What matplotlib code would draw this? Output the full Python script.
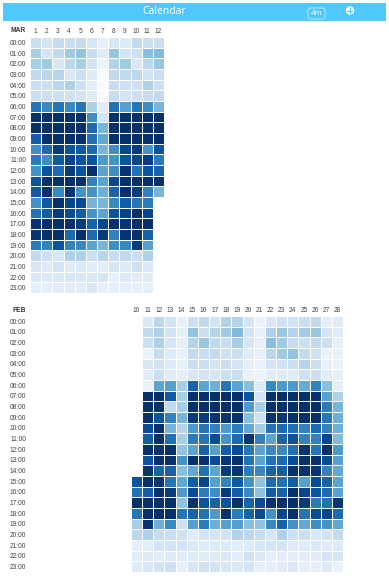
#!/usr/bin/python3
""" two calendar heatmaps, hour of day against day of month """
import numpy as np
import matplotlib
matplotlib.use("Agg")
import matplotlib.pyplot as plt
from matplotlib.colors import PowerNorm
from matplotlib.patches import Rectangle, FancyBboxPatch, Circle

WIDTH = 389
HEIGHT = 578
HOURS = ["%02d:00" % h for h in range(24)]
MAR_DAYS = list(range(1, 13))
FEB_DAYS = list(range(10, 29))

MAR_VALUES = [
    [18, 14, 20, 18, 20, 13, 6, 12, 10, 22, 18, 18],
    [30, 14, 22, 32, 36, 20, 10, 35, 14, 18, 38, 40],
    [30, 32, 12, 24, 30, 14, 4, 26, 32, 12, 24, 34],
    [22, 24, 25, 12, 18, 9, 0, 22, 22, 24, 15, 18],
    [18, 18, 24, 28, 17, 8, 0, 20, 17, 17, 28, 17],
    [18, 18, 17, 16, 15, 10, 0, 20, 14, 17, 20, 22],
    [70, 62, 70, 62, 70, 28, 8, 72, 52, 70, 60, 42],
    [100, 100, 100, 100, 100, 60, 14, 100, 100, 100, 100, 100],
    [100, 100, 100, 100, 100, 75, 42, 100, 100, 100, 100, 100],
    [80, 100, 100, 100, 100, 72, 48, 100, 100, 100, 100, 100],
    [60, 75, 95, 85, 82, 75, 42, 60, 90, 95, 58, 85],
    [68, 60, 82, 92, 85, 85, 55, 58, 85, 90, 95, 68],
    [58, 85, 75, 95, 85, 100, 50, 60, 98, 72, 85, 78],
    [85, 100, 100, 100, 100, 65, 50, 90, 100, 100, 100, 100],
    [82, 100, 62, 98, 58, 58, 45, 78, 100, 95, 65, 42],
    [58, 82, 100, 90, 88, 42, 42, 62, 80, 70, 68],
    [72, 80, 95, 88, 80, 58, 50, 85, 92, 100, 90],
    [100, 100, 100, 100, 95, 78, 90, 100, 98, 100, 100],
    [98, 100, 100, 75, 100, 75, 95, 65, 98, 100, 78],
    [68, 65, 85, 65, 62, 50, 42, 60, 62, 95, 52],
    [22, 17, 13, 28, 28, 18, 25, 20, 22, 18, 28],
    [12, 9, 14, 9, 10, 8, 8, 13, 10, 17, 11],
    [11, 11, 11, 13, 12, 12, 13, 6, 10, 9, 9],
    [7, 7, 8, 8, 8, 12, 6, 7, 6, 6, 7],
]

# the 10th only has data from 15:00, so the earlier rows start with None
FEB_VALUES = [
    [None, 11, 24, 14, 5, 17, 23, 14, 26, 26, 14, 4, 11, 17, 15, 18, 22, 7, 9],
    [None, 22, 28, 15, 7, 36, 18, 26, 32, 40, 15, 6, 28, 34, 26, 32, 34, 14, 9],
    [None, 18, 28, 13, 8, 26, 34, 23, 20, 30, 13, 6, 38, 32, 20, 18, 22, 18, 7],
    [None, 5, 20, 9, 6, 22, 20, 22, 16, 18, 9, 6, 24, 32, 36, 22, 17, 5, 5],
    [None, 12, 16, 10, 6, 18, 18, 14, 18, 14, 7, 5, 14, 17, 18, 26, 18, 6, 5],
    [None, 8, 18, 9, 7, 12, 14, 13, 18, 18, 5, 4, 8, 9, 9, 17, 18, 9, 6],
    [None, 5, 50, 52, 30, 78, 50, 45, 70, 50, 38, 10, 62, 55, 55, 47, 65, 38, 8],
    [None, 100, 100, 82, 30, 100, 100, 100, 100, 100, 85, 14, 100, 100, 100, 100, 100, 52, 28],
    [None, 100, 100, 22, 30, 100, 100, 100, 100, 100, 55, 30, 100, 100, 100, 100, 100, 68, 42],
    [None, 100, 85, 65, 42, 95, 95, 98, 98, 100, 38, 17, 100, 97, 100, 100, 100, 70, 45],
    [None, 88, 100, 42, 26, 55, 70, 65, 55, 68, 48, 30, 72, 75, 72, 65, 75, 65, 45],
    [None, 80, 100, 72, 30, 68, 70, 88, 58, 75, 98, 65, 50, 78, 85, 65, 65, 90, 40],
    [None, 100, 98, 100, 36, 50, 78, 52, 80, 88, 70, 50, 62, 62, 72, 98, 70, 100, 55],
    [None, 85, 100, 100, 58, 100, 100, 88, 97, 100, 72, 50, 72, 75, 88, 100, 100, 88, 52],
    [None, 98, 78, 78, 38, 48, 72, 50, 95, 98, 68, 62, 78, 80, 100, 100, 98, 65, 48],
    [85, 100, 97, 70, 48, 80, 90, 52, 65, 82, 58, 36, 75, 72, 80, 52, 88, 78, 50],
    [72, 80, 100, 95, 55, 88, 68, 60, 95, 80, 62, 36, 80, 78, 100, 90, 85, 75, 50],
    [100, 100, 100, 100, 36, 100, 85, 78, 85, 100, 78, 88, 100, 100, 100, 95, 68, 72, 97],
    [70, 100, 100, 100, 70, 78, 72, 55, 100, 68, 78, 88, 58, 90, 100, 70, 88, 90, 75],
    [30, 98, 45, 62, 17, 52, 68, 45, 52, 52, 38, 36, 62, 78, 58, 48, 60, 58, 48],
    [24, 28, 20, 18, 16, 9, 14, 14, 15, 26, 24, 20, 13, 28, 17, 18, 12, 15, 22],
    [6, 8, 14, 14, 14, 11, 9, 10, 10, 8, 10, 13, 14, 15, 9, 9, 11, 9, 10],
    [8, 9, 8, 9, 9, 9, 8, 9, 11, 7, 16, 11, 7, 8, 7, 8, 8, 14, 13],
    [9, 12, 15, 17, 6, 13, 16, 15, 12, 11, 14, 6, 7, 9, 11, 7, 7, 10, 5],
]

HEADER_COLOR = "#4fc8fb"
plt.rcParams["font.family"] = ["Liberation Sans", "DejaVu Sans"]


def to_grid(rows, columns):
    """ pad short rows and mask the missing cells """
    grid = np.full((len(rows), columns), np.nan)
    for index, row in enumerate(rows):
        for column, value in enumerate(row):
            if value is not None:
                grid[index, column] = value
    return np.ma.masked_invalid(grid)


def draw_month(figure, box, name, days, rows):
    """ one heatmap, box is left, top, right, bottom in pixels """
    left, top, right, bottom = box
    axes = figure.add_axes([left / WIDTH, 1. - bottom / HEIGHT,
                            (right - left) / WIDTH, (bottom - top) / HEIGHT])
    grid = to_grid(rows, len(days))
    axes.pcolormesh(np.arange(len(days) + 1), np.arange(25), grid,
                    cmap="Blues", norm=PowerNorm(0.88, vmin=0, vmax=100),
                    edgecolors="white", linewidth=0.4)
    axes.set_xlim(0, len(days))
    axes.set_ylim(24, 0)
    axes.xaxis.tick_top()
    axes.set_xticks(np.arange(len(days)) + 0.5, [str(d) for d in days],
                    fontsize=4.8, color="#444444")
    axes.set_yticks(np.arange(24) + 0.5, HOURS, fontsize=4.8, color="#444444")
    axes.tick_params(length=0, pad=1.5)
    axes.tick_params(axis="y", pad=(left - 26) * 0.72)
    for spine in axes.spines.values():
        spine.set_visible(False)
    figure.text(26 / WIDTH, 1. - (top - 6) / HEIGHT, name, fontsize=4.8,
                fontweight="bold", color="#333333",
                ha="right", va="center")


def draw_header(figure):
    """ blue title bar, drawn in pixel coordinates """
    axes = figure.add_axes([0, 0, 1, 1], zorder=5)
    axes.set_xlim(0, WIDTH)
    axes.set_ylim(HEIGHT, 0)
    axes.axis("off")
    axes.add_patch(Rectangle((3, 3), 383, 18, color=HEADER_COLOR, lw=0))
    axes.text(164, 12, "Calendar", color="white", fontsize=7.5,
              family="Open Sans", ha="center", va="center")
    axes.add_patch(FancyBboxPatch((308, 8), 17, 11,
                                  boxstyle="round,pad=0,rounding_size=2.5",
                                  fc="none", ec="#c8eefe", lw=0.6))
    axes.text(316.5, 13.5, "4m", color="white", fontsize=5.6,
              family="Open Sans", ha="center", va="center")
    axes.add_patch(Circle((350, 10.5), 4.2, color="white", lw=0))
    axes.plot([347.5, 352.5], [10.5, 10.5], color=HEADER_COLOR, lw=0.8)
    axes.plot([350, 350], [8, 13], color=HEADER_COLOR, lw=0.8)


if __name__ == "__main__":
    FIGURE = plt.figure(figsize=(WIDTH / 100., HEIGHT / 100.), dpi=100,
                        facecolor="white")
    draw_month(FIGURE, (30, 37, 164, 293), "MAR", MAR_DAYS, MAR_VALUES)
    draw_month(FIGURE, (131, 316, 343, 572), "FEB", FEB_DAYS, FEB_VALUES)
    draw_header(FIGURE)
    FIGURE.savefig("out.png", dpi=100)
